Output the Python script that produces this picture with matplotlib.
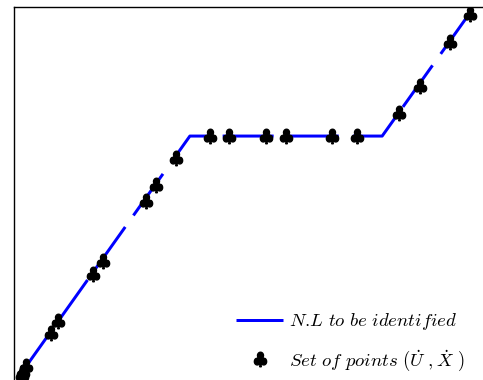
import matplotlib
matplotlib.use("Agg")
import matplotlib.pyplot as plt
import numpy as np

plt.rcParams['mathtext.fontset'] = 'cm'

# Nonlinearity to be identified (piecewise linear, breakpoints)
nl_x = [0.17, 3.75, 7.85, 9.72]
nl_y = [0.21, 6.54, 6.54, 9.84]

# Set of points (U_dot, X_dot)
pts_x = [0.17, 0.19, 0.26, 0.79, 0.94, 1.68, 1.90, 2.81, 3.03, 3.45,
         4.18, 4.58, 5.37, 5.80, 6.78, 7.31, 8.21, 8.66, 9.30, 9.72]
pts_y = [0.13, 0.21, 0.38, 1.26, 1.58, 2.84, 3.19, 4.80, 5.23, 5.95,
         6.54, 6.54, 6.54, 6.54, 6.54, 6.54, 7.16, 7.88, 9.06, 9.81]

labels = [r'$\mathit{N.\!L\ to\ be\ identified}$',
          r'$\mathit{Set\ of\ points\ (}\dot{U}\ ,\dot{X}\ )$']

fig = plt.figure(figsize=(4.83, 3.80), dpi=100)
ax = fig.add_axes([14/483, 0.0, 1 - 14/483, 373/380])

ax.plot(nl_x, nl_y, color='#0000ff', lw=2.16,
        linestyle=(1.0, (17.0, 4.7)), label=labels[0], zorder=2)
ax.plot(pts_x, pts_y, linestyle='none', marker=r'$\clubsuit$',
        markersize=10.5, color='black', label=labels[1], zorder=3)

ax.set_xlim(0, 10)
ax.set_ylim(0, 10)
ax.set_xticks([])
ax.set_yticks([])
for s in ['right', 'bottom']:
    ax.spines[s].set_visible(False)
for s in ['left', 'top']:
    ax.spines[s].set_linewidth(1.0)

leg = ax.legend(loc='lower right', frameon=False, fontsize=13.5,
                handlelength=2.5, handletextpad=0.32, labelspacing=0.85,
                bbox_to_anchor=(482/483, -10/380),
                bbox_transform=fig.transFigure)

fig.savefig('out.png', dpi=100)
